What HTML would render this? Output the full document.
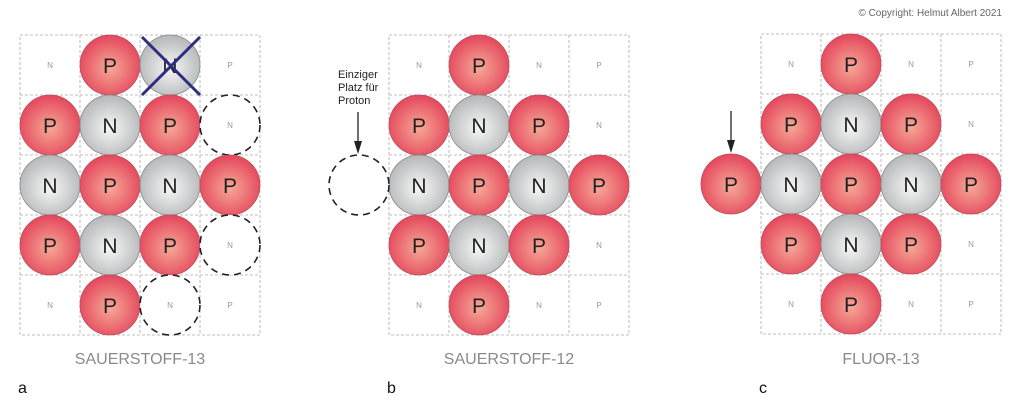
<!DOCTYPE html>
<html><head><meta charset="utf-8"><style>
html,body{margin:0;padding:0;background:#fff;width:1024px;height:400px;overflow:hidden}
svg{display:block;font-family:"Liberation Sans",Arial,sans-serif}
.P circle,.N circle{stroke-width:0.8}
.P circle{fill:url(#gp);stroke:#b8505e}
.N circle{fill:url(#gn);stroke:#8a8a8a}
.P text,.N text{font-size:21px;fill:#222;text-anchor:middle}
.s{font-size:8px;fill:#999;text-anchor:middle}
.grid{fill:none;stroke:#aaa;stroke-width:0.8;stroke-dasharray:3,2}
.d{fill:#fff;stroke:#222;stroke-width:1.6;stroke-dasharray:7,5}
.t{font-size:16px;fill:#8a8a8a;text-anchor:middle}
.l{font-size:16px;fill:#111}
</style></head><body>
<svg width="1024" height="400" viewBox="0 0 1024 400">
<defs>
<radialGradient id="gp" cx="50%" cy="55%" r="55%"><stop offset="0" stop-color="#f6a896"/><stop offset="1" stop-color="#e4465c"/></radialGradient>
<radialGradient id="gn" cx="50%" cy="55%" r="55%"><stop offset="0" stop-color="#f7f7f7"/><stop offset="1" stop-color="#b5b7b8"/></radialGradient>
<marker id="ar" markerWidth="8" markerHeight="10" refX="4" refY="10" orient="auto" markerUnits="userSpaceOnUse"><path d="M0,0 L8,0 L4,10 z" fill="#222" transform="rotate(-90 4 5)"/></marker>
</defs>

<text x="1002" y="16" font-size="10" fill="#666" text-anchor="end">© Copyright: Helmut Albert 2021</text>

<!-- Grid a -->
<g class="grid"><rect x="20" y="35" width="240" height="300"/>
<path d="M80 35V335M140 35V335M200 35V335M20 95H260M20 155H260M20 215H260M20 275H260"/></g>
<text class="s" x="50" y="68">N</text><text class="s" x="230" y="68">P</text>
<text class="s" x="50" y="308">N</text><text class="s" x="230" y="308">P</text>
<g class="P"><circle cx="110" cy="65" r="30"/><text x="110" y="73">P</text></g>
<g class="N"><circle cx="170" cy="65" r="30"/><text x="170" y="73">N</text></g>
<path d="M142 37L200 95M200 37L142 95" stroke="#2e2e80" stroke-width="3"/>
<g class="P"><circle cx="50" cy="125" r="30"/><text x="50" y="133">P</text></g>
<g class="N"><circle cx="110" cy="125" r="30"/><text x="110" y="133">N</text></g>
<g class="P"><circle cx="170" cy="125" r="30"/><text x="170" y="133">P</text></g>
<circle class="d" cx="230" cy="125" r="30"/><text class="s" x="230" y="128">N</text>
<g class="N"><circle cx="50" cy="185" r="30"/><text x="50" y="193">N</text></g>
<g class="P"><circle cx="110" cy="185" r="30"/><text x="110" y="193">P</text></g>
<g class="N"><circle cx="170" cy="185" r="30"/><text x="170" y="193">N</text></g>
<g class="P"><circle cx="230" cy="185" r="30"/><text x="230" y="193">P</text></g>
<g class="P"><circle cx="50" cy="245" r="30"/><text x="50" y="253">P</text></g>
<g class="N"><circle cx="110" cy="245" r="30"/><text x="110" y="253">N</text></g>
<g class="P"><circle cx="170" cy="245" r="30"/><text x="170" y="253">P</text></g>
<circle class="d" cx="230" cy="245" r="30"/><text class="s" x="230" y="248">N</text>
<g class="P"><circle cx="110" cy="305" r="30"/><text x="110" y="313">P</text></g>
<circle class="d" cx="170" cy="305" r="30"/><text class="s" x="170" y="308">N</text>
<text class="t" x="140" y="364">SAUERSTOFF-13</text>
<text class="l" x="18" y="393">a</text>

<!-- Grid b -->
<g class="grid"><rect x="389" y="35" width="240" height="300"/>
<path d="M449 35V335M509 35V335M569 35V335M389 95H629M389 155H629M389 215H629M389 275H629"/></g>
<text class="s" x="419" y="68">N</text><text class="s" x="539" y="68">N</text><text class="s" x="599" y="68">P</text>
<text class="s" x="599" y="128">N</text><text class="s" x="599" y="248">N</text>
<text class="s" x="419" y="308">N</text><text class="s" x="539" y="308">N</text><text class="s" x="599" y="308">P</text>
<g class="P"><circle cx="479" cy="65" r="30"/><text x="479" y="73">P</text></g>
<g class="P"><circle cx="419" cy="125" r="30"/><text x="419" y="133">P</text></g>
<g class="N"><circle cx="479" cy="125" r="30"/><text x="479" y="133">N</text></g>
<g class="P"><circle cx="539" cy="125" r="30"/><text x="539" y="133">P</text></g>
<g class="N"><circle cx="419" cy="185" r="30"/><text x="419" y="193">N</text></g>
<g class="P"><circle cx="479" cy="185" r="30"/><text x="479" y="193">P</text></g>
<g class="N"><circle cx="539" cy="185" r="30"/><text x="539" y="193">N</text></g>
<g class="P"><circle cx="599" cy="185" r="30"/><text x="599" y="193">P</text></g>
<g class="P"><circle cx="419" cy="245" r="30"/><text x="419" y="253">P</text></g>
<g class="N"><circle cx="479" cy="245" r="30"/><text x="479" y="253">N</text></g>
<g class="P"><circle cx="539" cy="245" r="30"/><text x="539" y="253">P</text></g>
<g class="P"><circle cx="479" cy="305" r="30"/><text x="479" y="313">P</text></g>
<circle class="d" cx="359" cy="185" r="30"/>
<text x="338" y="78" font-size="11" fill="#222">Einziger</text>
<text x="338" y="91" font-size="11" fill="#222">Platz für</text>
<text x="338" y="104" font-size="11" fill="#222">Proton</text>
<line x1="358" y1="112" x2="358" y2="142" stroke="#222" stroke-width="1.3"/>
<path d="M354 141L362 141L358 154z" fill="#222"/>
<text class="t" x="509" y="364">SAUERSTOFF-12</text>
<text class="l" x="387" y="393">b</text>

<!-- Grid c -->
<g class="grid"><rect x="761" y="34" width="240" height="300"/>
<path d="M821 34V334M881 34V334M941 34V334M761 94H1001M761 154H1001M761 214H1001M761 274H1001"/></g>
<text class="s" x="791" y="67">N</text><text class="s" x="911" y="67">N</text><text class="s" x="971" y="67">P</text>
<text class="s" x="971" y="127">N</text><text class="s" x="971" y="247">N</text>
<text class="s" x="791" y="307">N</text><text class="s" x="911" y="307">N</text><text class="s" x="971" y="307">P</text>
<g class="P"><circle cx="851" cy="64" r="30"/><text x="851" y="72">P</text></g>
<g class="P"><circle cx="791" cy="124" r="30"/><text x="791" y="132">P</text></g>
<g class="N"><circle cx="851" cy="124" r="30"/><text x="851" y="132">N</text></g>
<g class="P"><circle cx="911" cy="124" r="30"/><text x="911" y="132">P</text></g>
<g class="P"><circle cx="731" cy="184" r="30"/><text x="731" y="192">P</text></g>
<g class="N"><circle cx="791" cy="184" r="30"/><text x="791" y="192">N</text></g>
<g class="P"><circle cx="851" cy="184" r="30"/><text x="851" y="192">P</text></g>
<g class="N"><circle cx="911" cy="184" r="30"/><text x="911" y="192">N</text></g>
<g class="P"><circle cx="971" cy="184" r="30"/><text x="971" y="192">P</text></g>
<g class="P"><circle cx="791" cy="244" r="30"/><text x="791" y="252">P</text></g>
<g class="N"><circle cx="851" cy="244" r="30"/><text x="851" y="252">N</text></g>
<g class="P"><circle cx="911" cy="244" r="30"/><text x="911" y="252">P</text></g>
<g class="P"><circle cx="851" cy="304" r="30"/><text x="851" y="312">P</text></g>
<line x1="731" y1="111" x2="731" y2="141" stroke="#222" stroke-width="1.3"/>
<path d="M727 140L735 140L731 153z" fill="#222"/>
<text class="t" x="881" y="364">FLUOR-13</text>
<text class="l" x="759" y="393">c</text>
</svg>
</body></html>
